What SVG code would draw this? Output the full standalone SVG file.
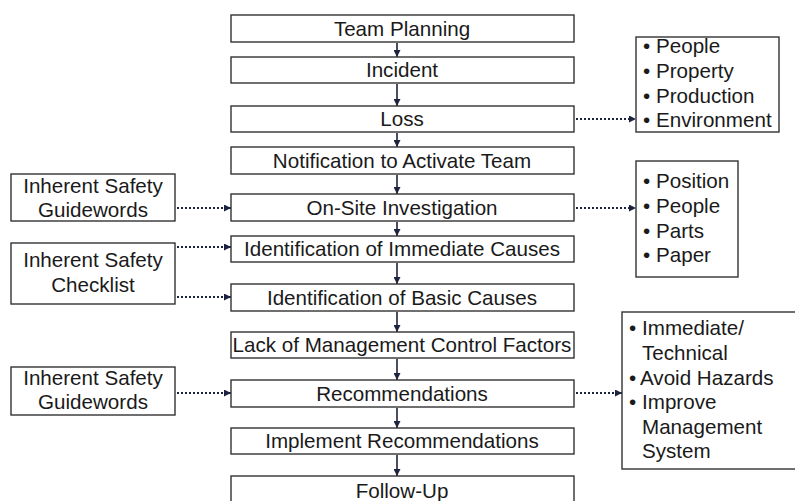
<svg xmlns="http://www.w3.org/2000/svg" width="795" height="501" viewBox="0 0 795 501">
<defs>
<marker id="ah" viewBox="0 0 10 10" refX="10" refY="5" markerWidth="7" markerHeight="7" markerUnits="userSpaceOnUse" orient="auto">
<path d="M0,0 L10,5 L0,10 z" fill="#1c2340"/>
</marker>
<style>
.box{fill:#fff;stroke:#333;stroke-width:1.4}
.t{font-family:"Liberation Sans",Arial,sans-serif;font-size:20.6px;fill:#1a1a1a}
.c{text-anchor:middle}
.solid{stroke:#1c2340;stroke-width:1.6;fill:none}
.dot{stroke:#1c2340;stroke-width:2;stroke-dasharray:2 2;fill:none}
</style>
</defs>
<rect width="795" height="501" fill="#fff"/>
<g id="connectors">
<line class="solid" x1="397" y1="43" x2="397" y2="57" marker-end="url(#ah)"/>
<line class="solid" x1="397" y1="84" x2="397" y2="106" marker-end="url(#ah)"/>
<line class="solid" x1="397" y1="133" x2="397" y2="147" marker-end="url(#ah)"/>
<line class="solid" x1="397" y1="175" x2="397" y2="194" marker-end="url(#ah)"/>
<line class="solid" x1="397" y1="222" x2="397" y2="236" marker-end="url(#ah)"/>
<line class="solid" x1="397" y1="263" x2="397" y2="284" marker-end="url(#ah)"/>
<line class="solid" x1="397" y1="312" x2="397" y2="332" marker-end="url(#ah)"/>
<line class="solid" x1="397" y1="359" x2="397" y2="380" marker-end="url(#ah)"/>
<line class="solid" x1="397" y1="408" x2="397" y2="428" marker-end="url(#ah)"/>
<line class="solid" x1="397" y1="455" x2="397" y2="476" marker-end="url(#ah)"/>
<line class="dot" x1="576" y1="119" x2="636" y2="119" marker-end="url(#ah)"/>
<line class="dot" x1="576" y1="208" x2="636" y2="208" marker-end="url(#ah)"/>
<line class="dot" x1="177" y1="208" x2="231" y2="208" marker-end="url(#ah)"/>
<line class="dot" x1="177" y1="247" x2="231" y2="247" marker-end="url(#ah)"/>
<line class="dot" x1="177" y1="297" x2="231" y2="297" marker-end="url(#ah)"/>
<line class="dot" x1="177" y1="393" x2="231" y2="393" marker-end="url(#ah)"/>
<line class="dot" x1="576" y1="393" x2="622" y2="393" marker-end="url(#ah)"/>
</g>
<g id="n1"><rect class="box" x="231" y="15" width="343" height="27"/><text class="t c" x="402" y="35.5">Team Planning</text></g>
<g id="n2"><rect class="box" x="231" y="57" width="343" height="26"/><text class="t c" x="402" y="77">Incident</text></g>
<g id="n3"><rect class="box" x="231" y="106" width="343" height="26"/><text class="t c" x="402" y="126">Loss</text></g>
<g id="n4"><rect class="box" x="231" y="147" width="343" height="27"/><text class="t c" x="402" y="167.5">Notification to Activate Team</text></g>
<g id="n5"><rect class="box" x="231" y="194" width="343" height="27"/><text class="t c" x="402" y="214.5">On-Site Investigation</text></g>
<g id="n6"><rect class="box" x="231" y="236" width="343" height="26"/><text class="t c" x="402" y="256">Identification of Immediate Causes</text></g>
<g id="n7"><rect class="box" x="231" y="284" width="343" height="27"/><text class="t c" x="402" y="304.5">Identification of Basic Causes</text></g>
<g id="n8"><rect class="box" x="231" y="332" width="343" height="26"/><text class="t c" x="402" y="352">Lack of Management Control Factors</text></g>
<g id="n9"><rect class="box" x="231" y="380" width="343" height="27"/><text class="t c" x="402" y="400.5">Recommendations</text></g>
<g id="n10"><rect class="box" x="231" y="428" width="343" height="26"/><text class="t c" x="402" y="448">Implement Recommendations</text></g>
<g id="n11"><rect class="box" x="231" y="476" width="343" height="40"/><text class="t c" x="402" y="498">Follow-Up</text></g>
<g id="l1"><rect class="box" x="11" y="174" width="164" height="47"/><text class="t c" x="93" y="193">Inherent Safety</text><text class="t c" x="93" y="217">Guidewords</text></g>
<g id="l2"><rect class="box" x="11" y="243" width="164" height="61"/><text class="t c" x="93" y="267">Inherent Safety</text><text class="t c" x="93" y="292">Checklist</text></g>
<g id="l3"><rect class="box" x="11" y="367" width="164" height="48"/><text class="t c" x="93" y="385">Inherent Safety</text><text class="t c" x="93" y="409">Guidewords</text></g>
<g id="r1"><rect class="box" x="636" y="37" width="143" height="95"/>
<text class="t" x="643" y="53">•</text><text class="t" x="656" y="53">People</text>
<text class="t" x="643" y="78">•</text><text class="t" x="656" y="78">Property</text>
<text class="t" x="643" y="103">•</text><text class="t" x="656" y="103">Production</text>
<text class="t" x="643" y="127">•</text><text class="t" x="656" y="127">Environment</text></g>
<g id="r2"><rect class="box" x="636" y="161" width="102" height="116"/>
<text class="t" x="643" y="188">•</text><text class="t" x="656" y="188">Position</text>
<text class="t" x="643" y="213">•</text><text class="t" x="656" y="213">People</text>
<text class="t" x="643" y="238">•</text><text class="t" x="656" y="238">Parts</text>
<text class="t" x="643" y="262">•</text><text class="t" x="656" y="262">Paper</text></g>
<g id="r3"><rect class="box" x="622" y="312" width="185" height="157"/>
<text class="t" x="629" y="335">•</text><text class="t" x="642" y="335">Immediate/</text>
<text class="t" x="642" y="360">Technical</text>
<text class="t" x="629" y="385">•</text><text class="t" x="640" y="385">Avoid Hazards</text>
<text class="t" x="629" y="409">•</text><text class="t" x="642" y="409">Improve</text>
<text class="t" x="642" y="434">Management</text>
<text class="t" x="642" y="458">System</text></g>
</svg>
